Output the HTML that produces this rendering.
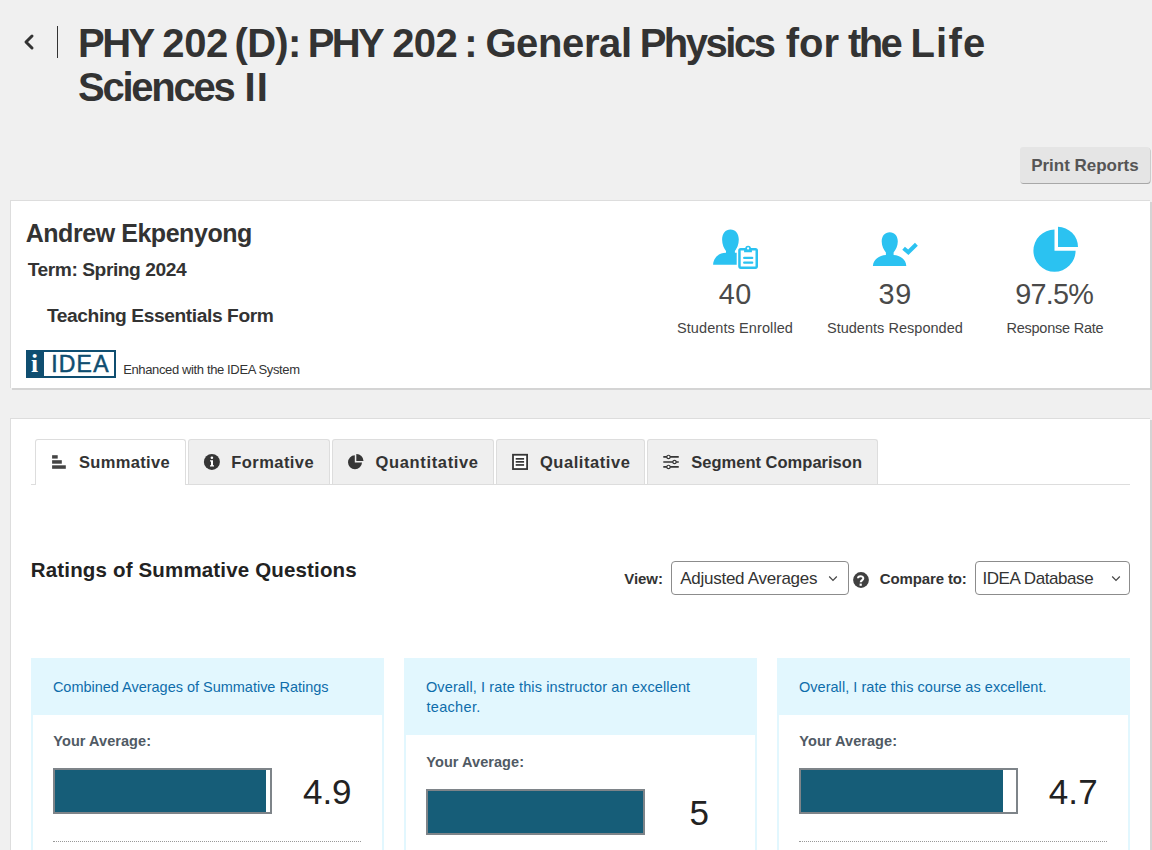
<!DOCTYPE html>
<html><head><meta charset="utf-8"><style>
html,body{margin:0;padding:0;}
body{width:1152px;height:850px;overflow:hidden;background:#f0f0f0;position:relative;font-family:"Liberation Sans",sans-serif;}
.a{position:absolute;box-sizing:content-box;}
.t{position:absolute;white-space:nowrap;font-family:"Liberation Sans",sans-serif;}
svg.a{overflow:visible;}
</style></head><body>
<div class="t" style="left:78.10px;top:23.34px;font-size:40px;line-height:40px;font-weight:bold;color:#333;letter-spacing:-2.550px;">PHY</div>
<div class="t" style="left:162.30px;top:23.34px;font-size:40px;line-height:40px;font-weight:bold;color:#333;letter-spacing:-0.350px;">202</div>
<div class="t" style="left:234.60px;top:23.34px;font-size:40px;line-height:40px;font-weight:bold;color:#333;letter-spacing:-0.733px;">(D):</div>
<div class="t" style="left:307.75px;top:23.34px;font-size:40px;line-height:40px;font-weight:bold;color:#333;letter-spacing:-2.600px;">PHY</div>
<div class="t" style="left:392.20px;top:23.34px;font-size:40px;line-height:40px;font-weight:bold;color:#333;letter-spacing:-0.600px;">202</div>
<div class="t" style="left:464.30px;top:23.34px;font-size:40px;line-height:40px;font-weight:bold;color:#333;letter-spacing:0.000px;">:</div>
<div class="t" style="left:485.40px;top:23.34px;font-size:40px;line-height:40px;font-weight:bold;color:#333;letter-spacing:-0.383px;">General</div>
<div class="t" style="left:639.70px;top:23.34px;font-size:40px;line-height:40px;font-weight:bold;color:#333;letter-spacing:-2.500px;">Physics</div>
<div class="t" style="left:785.80px;top:23.34px;font-size:40px;line-height:40px;font-weight:bold;color:#333;letter-spacing:-0.050px;">for</div>
<div class="t" style="left:848.00px;top:23.34px;font-size:40px;line-height:40px;font-weight:bold;color:#333;letter-spacing:-2.600px;">the</div>
<div class="t" style="left:910.45px;top:23.34px;font-size:40px;line-height:40px;font-weight:bold;color:#333;letter-spacing:1.200px;">Life</div>
<div class="t" style="left:78.00px;top:67.34px;font-size:40px;line-height:40px;font-weight:bold;color:#333;letter-spacing:-2.229px;">Sciences</div>
<div class="t" style="left:244.55px;top:67.34px;font-size:40px;line-height:40px;font-weight:bold;color:#333;letter-spacing:1.200px;">II</div>
<svg class="a" style="left:22px;top:33px" width="14" height="18" viewBox="0 0 14 18"><path d="M10 3 L4 9 L10 15" fill="none" stroke="#333" stroke-width="3" stroke-linecap="round" stroke-linejoin="round"/></svg>
<div class="a" style="left:57px;top:26px;width:1px;height:32px;background:#333"></div>
<div class="a" style="left:1020px;top:147px;width:130px;height:36px;background:#e5e5e5;border-radius:3px;box-shadow:0.5px 1px 0.5px #a8a8a8"></div>
<div class="t" style="left:1031.15px;top:156.61px;font-size:17px;line-height:17px;font-weight:bold;color:#555;letter-spacing:-0.010px;">Print Reports</div>
<div class="a" style="left:10px;top:200px;width:1139px;height:187px;background:#fff;border-left:1px solid #ddd;border-top:1px solid #ddd;box-shadow:2px 2px 0 #d4d4d4"></div>
<div class="t" style="left:25.68px;top:221.24px;font-size:25px;line-height:25px;font-weight:bold;color:#333;letter-spacing:-0.448px;">Andrew Ekpenyong</div>
<div class="t" style="left:27.71px;top:260.05px;font-size:19.2px;line-height:19.2px;font-weight:bold;color:#333;letter-spacing:-0.443px;">Term: Spring 2024</div>
<div class="t" style="left:46.91px;top:306.15px;font-size:19.2px;line-height:19.2px;font-weight:bold;color:#333;letter-spacing:-0.411px;">Teaching Essentials Form</div>
<div class="a" style="left:26px;top:350px;width:86px;height:24px;border:2px solid #0f4e70;background:#fff"></div>
<div class="a" style="left:26px;top:350px;width:18px;height:28px;background:#0f4e70"></div>
<div class="t" style="left:31.01px;top:350.71px;font-size:25.5px;line-height:25.5px;font-weight:bold;color:#fff;letter-spacing:0.000px;font-family:'Liberation Serif';">i</div>
<div class="t" style="left:51.17px;top:353.33px;font-size:23px;line-height:23px;font-weight:normal;color:#0f4e70;letter-spacing:1.227px;-webkit-text-stroke:0.5px #0f4e70;">IDEA</div>
<div class="t" style="left:123.13px;top:363.00px;font-size:13px;line-height:13px;font-weight:normal;color:#333;letter-spacing:-0.366px;">Enhanced with the IDEA System</div>
<div class="t" style="left:718.65px;top:280.22px;font-size:28.8px;line-height:28.8px;font-weight:normal;color:#4a4a4a;letter-spacing:0.560px;">40</div>
<div class="t" style="left:878.52px;top:280.22px;font-size:28.8px;line-height:28.8px;font-weight:normal;color:#4a4a4a;letter-spacing:0.808px;">39</div>
<div class="t" style="left:1015.13px;top:280.22px;font-size:28.8px;line-height:28.8px;font-weight:normal;color:#4a4a4a;letter-spacing:-0.711px;">97.5%</div>
<div class="t" style="left:676.95px;top:320.73px;font-size:14.5px;line-height:14.5px;font-weight:normal;color:#444;letter-spacing:0.095px;">Students Enrolled</div>
<div class="t" style="left:826.95px;top:320.73px;font-size:14.5px;line-height:14.5px;font-weight:normal;color:#444;letter-spacing:0.025px;">Students Responded</div>
<div class="t" style="left:1006.40px;top:320.73px;font-size:14.5px;line-height:14.5px;font-weight:normal;color:#444;letter-spacing:-0.227px;">Response Rate</div>
<svg class="a" style="left:708px;top:224px" width="56" height="48" viewBox="0 0 56 48">
<path d="M18 27 C16 24.5 14.1 20.5 14.1 15.5 C14.1 9.5 17.5 5.4 22.45 5.4 C27.4 5.4 30.8 9.5 30.8 15.5 C30.8 20.5 28.9 24.5 26.9 27 L26.9 28.8 L32 28.8 L32 40.7 L5.1 40.7 C5.5 33.5 11 28.8 18 28.8 Z" fill="#2bc2f1"/>
<rect x="28.7" y="23" width="22.8" height="23.4" rx="2" fill="#fff"/>
<rect x="31.45" y="25.25" width="17.3" height="18.4" rx="1.3" fill="none" stroke="#2bc2f1" stroke-width="2.5"/>
<path d="M36.1 28.2 L36.1 24.6 L37.2 24.6 A2.9 2.9 0 0 1 43 24.6 L43.9 24.6 L43.9 28.2 Z" fill="#2bc2f1"/>
<circle cx="40.1" cy="24.4" r="1.1" fill="#fff"/>
<path d="M36.2 33.9 H44.2 M36.2 38.7 H44.2" stroke="#2bc2f1" stroke-width="2.3" stroke-linecap="round"/>
</svg>
<svg class="a" style="left:868px;top:226px" width="56" height="44" viewBox="0 0 56 44">
<path d="M17.9 26.4 C15.8 24 13.7 20 13.7 15.5 C13.7 9.8 17 6.2 21.75 6.2 C26.5 6.2 29.8 9.8 29.8 15.5 C29.8 20 27.7 24 25.6 26.4 L25.6 29 C32.5 29.3 38 33.5 38.3 39.9 L4.9 39.9 C5.5 33.5 11 29.3 17.9 29 Z" fill="#2bc2f1"/>
<path d="M35.6 22.3 L40.3 26.3 L48.4 18.3" fill="none" stroke="#2bc2f1" stroke-width="4.1" stroke-linecap="butt" stroke-linejoin="miter"/>
</svg>
<svg class="a" style="left:1030px;top:224px" width="52" height="52" viewBox="0 0 52 52">
<path d="M24.5 5.6 A21.1 21.1 0 1 0 45.6 26.7 L24.5 26.7 Z" fill="#2bc2f1"/>
<path d="M28 2.8 A20.3 20.3 0 0 1 48 23 L28 23 Z" fill="#2bc2f1"/>
</svg>
<div class="a" style="left:10px;top:418px;width:1139px;height:440px;background:#fff;border-left:1px solid #ddd;border-top:1px solid #ddd;box-shadow:2px 2px 0 #d4d4d4"></div>
<div class="a" style="left:31px;top:484px;width:1099px;height:1px;background:#ddd"></div>
<div class="a" style="left:35px;top:439px;width:149px;height:45px;background:#fff;border:1px solid #ddd;border-bottom:none;border-radius:3px 3px 0 0"></div>
<div class="t" style="left:78.91px;top:454.03px;font-size:16.5px;line-height:16.5px;font-weight:bold;color:#333;letter-spacing:0.350px;">Summative</div>
<div class="a" style="left:188px;top:439px;width:140px;height:44px;background:#efefef;border:1px solid #ddd;border-bottom:none;border-radius:3px 3px 0 0"></div>
<div class="t" style="left:231.19px;top:454.03px;font-size:16.5px;line-height:16.5px;font-weight:bold;color:#333;letter-spacing:0.453px;">Formative</div>
<div class="a" style="left:332px;top:439px;width:160px;height:44px;background:#efefef;border:1px solid #ddd;border-bottom:none;border-radius:3px 3px 0 0"></div>
<div class="t" style="left:375.59px;top:454.03px;font-size:16.5px;line-height:16.5px;font-weight:bold;color:#333;letter-spacing:0.647px;">Quantitative</div>
<div class="a" style="left:496px;top:439px;width:147px;height:44px;background:#efefef;border:1px solid #ddd;border-bottom:none;border-radius:3px 3px 0 0"></div>
<div class="t" style="left:539.94px;top:454.03px;font-size:16.5px;line-height:16.5px;font-weight:bold;color:#333;letter-spacing:0.564px;">Qualitative</div>
<div class="a" style="left:647px;top:439px;width:229px;height:44px;background:#efefef;border:1px solid #ddd;border-bottom:none;border-radius:3px 3px 0 0"></div>
<div class="t" style="left:691.21px;top:454.03px;font-size:16.5px;line-height:16.5px;font-weight:bold;color:#333;letter-spacing:0.015px;">Segment Comparison</div>
<svg class="a" style="left:52px;top:455px" width="14" height="14" viewBox="0 0 14 14">
<rect x="0.1" y="0.2" width="5.6" height="3.4" fill="#444"/><rect x="0.1" y="5.2" width="9.7" height="3.5" fill="#444"/><rect x="0.1" y="10.3" width="13.7" height="3.5" fill="#444"/></svg>
<svg class="a" style="left:203px;top:453px" width="18" height="18" viewBox="0 0 18 18">
<circle cx="8.9" cy="8.9" r="8" fill="#363636"/><circle cx="8.9" cy="4.8" r="1.3" fill="#fff"/><path d="M7 7.2 H10 V12.3 H11 V13.6 H7 V12.3 H8 V8.5 H7 Z" fill="#fff"/></svg>
<svg class="a" style="left:347px;top:453px" width="18" height="18" viewBox="0 0 18 18">
<path d="M7.8 2.3 A7 7 0 1 0 15 9.5 L7.8 9.5 Z" fill="#363636"/><path d="M9.3 1 A7 7 0 0 1 16.5 8 L9.3 8 Z" fill="#363636"/></svg>
<svg class="a" style="left:511px;top:453px" width="18" height="18" viewBox="0 0 18 18">
<rect x="2" y="1.75" width="14.1" height="14.3" fill="#fff" stroke="#363636" stroke-width="1.8"/><rect x="4.7" y="5.0" width="8.4" height="1.7" fill="#363636"/><rect x="4.7" y="8.0" width="8.4" height="1.7" fill="#363636"/><rect x="4.7" y="11.1" width="8.4" height="1.7" fill="#363636"/></svg>
<svg class="a" style="left:662px;top:454px" width="18" height="16" viewBox="0 0 18 16">
<path d="M1.3 2.9 H16.75 M1.3 8 H16.75 M1.3 12.9 H16.75" stroke="#363636" stroke-width="1.7"/>
<circle cx="6.5" cy="2.9" r="1.65" fill="#fff" stroke="#363636" stroke-width="1.2"/><circle cx="12.5" cy="8" r="1.65" fill="#fff" stroke="#363636" stroke-width="1.2"/><circle cx="6.5" cy="12.9" r="1.65" fill="#fff" stroke="#363636" stroke-width="1.2"/></svg>
<div class="t" style="left:30.82px;top:559.65px;font-size:20.5px;line-height:20.5px;font-weight:bold;color:#222;letter-spacing:0.161px;">Ratings of Summative Questions</div>
<div class="t" style="left:624.19px;top:570.50px;font-size:15px;line-height:15px;font-weight:bold;color:#333;letter-spacing:-0.037px;">View:</div>
<div class="a" style="left:671px;top:561px;width:176px;height:32px;border:1px solid #8c8c8c;border-radius:4px;background:#fff"></div>
<div class="t" style="left:680.26px;top:569.81px;font-size:17px;line-height:17px;font-weight:normal;color:#333;letter-spacing:-0.263px;">Adjusted Averages</div>
<svg class="a" style="left:828px;top:575px" width="10" height="8" viewBox="0 0 10 8"><path d="M1.2 1.5 L5 5.3 L8.8 1.5" fill="none" stroke="#444" stroke-width="1.2"/></svg>
<svg class="a" style="left:852px;top:572px" width="17" height="17" viewBox="0 0 17 17"><circle cx="9" cy="8" r="7.9" fill="#404040"/>
<path d="M6 6.3 C6 3.6 11.3 3.4 11.3 6.3 C11.3 8.3 8.7 8.4 8.7 10.3" fill="none" stroke="#fff" stroke-width="2"/><rect x="7.6" y="11.6" width="2.2" height="2.2" fill="#fff"/></svg>
<div class="t" style="left:879.70px;top:570.50px;font-size:15px;line-height:15px;font-weight:bold;color:#333;letter-spacing:-0.122px;">Compare to:</div>
<div class="a" style="left:975px;top:561px;width:153px;height:32px;border:1px solid #8c8c8c;border-radius:4px;background:#fff"></div>
<div class="t" style="left:982.43px;top:569.81px;font-size:17px;line-height:17px;font-weight:normal;color:#333;letter-spacing:-0.420px;">IDEA Database</div>
<svg class="a" style="left:1111px;top:575px" width="10" height="8" viewBox="0 0 10 8"><path d="M1.2 1.5 L5 5.3 L8.8 1.5" fill="none" stroke="#444" stroke-width="1.2"/></svg>
<div class="a" style="left:31px;top:658px;width:349px;height:200px;border:2px solid #e2f7fe;border-top:none;background:#fff"></div>
<div class="a" style="left:31px;top:658px;width:353px;height:57px;background:#e2f7fe"></div>
<div class="t" style="left:52.88px;top:679.73px;font-size:14.5px;line-height:14.5px;font-weight:normal;color:#0e6dab;letter-spacing:-0.015px;">Combined Averages of Summative Ratings</div>
<div class="t" style="left:53.35px;top:733.53px;font-size:14.5px;line-height:14.5px;font-weight:bold;color:#505a64;letter-spacing:0.055px;">Your Average:</div>
<div class="a" style="left:53px;top:768px;width:215px;height:42px;border:2px solid #7e8489;background:#fff"></div>
<div class="a" style="left:55px;top:770px;width:210.7px;height:42px;background:#165d78"></div>
<div class="t" style="left:303.01px;top:774.37px;font-size:35px;line-height:35px;font-weight:normal;color:#222;letter-spacing:-0.044px;">4.9</div>
<div class="a" style="left:53px;top:841px;width:308px;height:0;border-top:1px dotted #999"></div>
<div class="a" style="left:404px;top:658px;width:349px;height:200px;border:2px solid #e2f7fe;border-top:none;background:#fff"></div>
<div class="a" style="left:404px;top:658px;width:353px;height:77px;background:#e2f7fe"></div>
<div class="t" style="left:425.91px;top:679.73px;font-size:14.5px;line-height:14.5px;font-weight:normal;color:#0e6dab;letter-spacing:0.128px;">Overall, I rate this instructor an excellent</div>
<div class="t" style="left:426.38px;top:700.23px;font-size:14.5px;line-height:14.5px;font-weight:normal;color:#0e6dab;letter-spacing:0.334px;">teacher.</div>
<div class="t" style="left:426.35px;top:754.53px;font-size:14.5px;line-height:14.5px;font-weight:bold;color:#505a64;letter-spacing:0.055px;">Your Average:</div>
<div class="a" style="left:426px;top:789px;width:215px;height:42px;border:2px solid #7e8489;background:#fff"></div>
<div class="a" style="left:428px;top:791px;width:215.0px;height:42px;background:#165d78"></div>
<div class="t" style="left:689.60px;top:795.37px;font-size:35px;line-height:35px;font-weight:normal;color:#222;letter-spacing:0.000px;">5</div>
<div class="a" style="left:426px;top:862px;width:308px;height:0;border-top:1px dotted #999"></div>
<div class="a" style="left:777px;top:658px;width:349px;height:200px;border:2px solid #e2f7fe;border-top:none;background:#fff"></div>
<div class="a" style="left:777px;top:658px;width:353px;height:57px;background:#e2f7fe"></div>
<div class="t" style="left:798.91px;top:679.73px;font-size:14.5px;line-height:14.5px;font-weight:normal;color:#0e6dab;letter-spacing:0.045px;">Overall, I rate this course as excellent.</div>
<div class="t" style="left:799.35px;top:733.53px;font-size:14.5px;line-height:14.5px;font-weight:bold;color:#505a64;letter-spacing:0.055px;">Your Average:</div>
<div class="a" style="left:799px;top:768px;width:215px;height:42px;border:2px solid #7e8489;background:#fff"></div>
<div class="a" style="left:801px;top:770px;width:202.1px;height:42px;background:#165d78"></div>
<div class="t" style="left:1048.71px;top:774.37px;font-size:35px;line-height:35px;font-weight:normal;color:#222;letter-spacing:0.194px;">4.7</div>
<div class="a" style="left:799px;top:841px;width:308px;height:0;border-top:1px dotted #999"></div>
</body></html>
